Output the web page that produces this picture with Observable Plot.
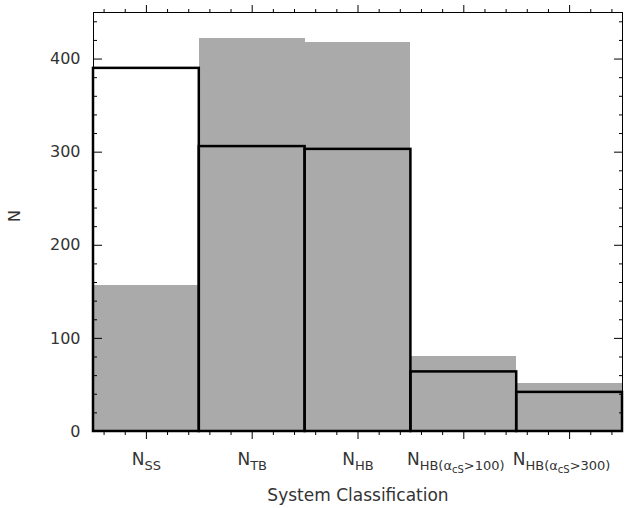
<!DOCTYPE html>
<html>
<head>
<meta charset="utf-8">
<script src="https://cdn.jsdelivr.net/npm/d3@7"></script>
<script src="https://cdn.jsdelivr.net/npm/@observablehq/plot@0.6"></script>
<style>
  html, body { margin: 0; padding: 0; background: #fff; }
  #chart { width: 624px; height: 508px; }
</style>
</head>
<body>
<div id="chart"></div>
<script>
// ---- data ----
const mainSymbol = "N";
const subscripts = ["SS", "TB", "HB", "HB(α_{cS}>100)", "HB(α_{cS}>300)"];
const filledCounts = [157, 422, 418, 81, 52];   // grey filled bars
const outlineCounts = [390, 306, 303, 64, 42];  // black outlined bars
const yTickValues = [0, 100, 200, 300, 400];
const yMinorTicks = [20, 40, 60, 80, 120, 140, 160, 180, 220, 240, 260, 280, 320, 340, 360, 380, 420, 440];
const xLabel = "System Classification";
const yLabel = "N";

const rows = subscripts.map((s, i) => ({
  i, sub: s, filled: filledCounts[i], outline: outlineCounts[i]
}));
const xMajor = rows.map(d => d.i + 0.5);
const xMinor = d3.range(25).filter(k => k % 5 !== 2).map(k => (2 * k + 1) / 10);

const font = "'DejaVu Sans', sans-serif";
const ink = "#333";

const chart = Plot.plot({
  width: 624,
  height: 508,
  marginLeft: 93,
  marginRight: 2,
  marginTop: 12,
  marginBottom: 77,
  style: { fontFamily: font, fontSize: "16px", color: ink, background: "#fff" },
  x: { domain: [0, 5] },
  y: { domain: [0, 450] },
  marks: [
    Plot.rectY(rows, { x1: "i", x2: d => d.i + 1, y: "filled", fill: "#aaaaaa", shapeRendering: "crispEdges" }),
    Plot.rectY(rows, { x1: "i", x2: d => d.i + 1, y: "outline", fill: "none", stroke: "black", strokeWidth: 2.5 }),
    Plot.frame({ stroke: "black", strokeWidth: 1 }),
    // y axes (ticks inward)
    Plot.axisY(yTickValues, { anchor: "left", tickSize: -9, fill: "none", stroke: "black", label: null }),
    Plot.axisY(yMinorTicks, { anchor: "left", tickSize: -4, fill: "none", stroke: "black", label: null }),
    Plot.axisY(yTickValues, { anchor: "right", tickSize: -9, fill: "none", stroke: "black", label: null }),
    Plot.axisY(yMinorTicks, { anchor: "right", tickSize: -4, fill: "none", stroke: "black", label: null }),
    Plot.axisY(yTickValues, { anchor: "left", tickSize: 0, tickPadding: 13, fill: ink, label: null, tickFormat: d => String(d) }),
    // x axes (ticks outward)
    Plot.axisX(xMajor, { anchor: "bottom", tickSize: 8, fill: "none", stroke: "black", label: null }),
    Plot.axisX(xMinor, { anchor: "bottom", tickSize: 4, fill: "none", stroke: "black", label: null }),
    Plot.axisX(xMajor, { anchor: "top", tickSize: 8, fill: "none", stroke: "black", label: null }),
    Plot.axisX(xMinor, { anchor: "top", tickSize: 4, fill: "none", stroke: "black", label: null }),
    // category labels
    Plot.text(rows, { x: d => d.i + 0.5, frameAnchor: "bottom", dy: 33, lineAnchor: "bottom",
      text: d => mainSymbol + "_{" + d.sub + "}", fill: ink, fontSize: 17 }),
    // axis titles
    Plot.text([xLabel], { frameAnchor: "bottom", dy: 69, lineAnchor: "bottom", text: d => d, fill: ink, fontSize: 17 }),
    Plot.text([yLabel], { frameAnchor: "left", dx: -79, rotate: -90, text: d => d, fill: ink, fontSize: 16 })
  ]
});

// render subscripts as tspans
function renderSub(el, s) {
  el.textContent = "";
  const sizes = [17, 13, 10], offs = [0, 5, 8];
  let level = 0, cur = 0, buf = "";
  const segs = [];
  for (let i = 0; i < s.length; i++) {
    if (s[i] === "_" && s[i + 1] === "{") { if (buf) segs.push([buf, level]); buf = ""; level++; i++; }
    else if (s[i] === "}") { if (buf) segs.push([buf, level]); buf = ""; level--; }
    else buf += s[i];
  }
  if (buf) segs.push([buf, level]);
  for (const [t, l] of segs) {
    const ts = document.createElementNS("http://www.w3.org/2000/svg", "tspan");
    ts.setAttribute("font-size", sizes[l]);
    ts.setAttribute("dy", offs[l] - cur);
    cur = offs[l];
    ts.textContent = t;
    el.appendChild(ts);
  }
  // long labels sit slightly left of their tick in the reference
  if (s.includes("(")) el.setAttribute("dx", -8);
}
chart.querySelectorAll("text").forEach(el => {
  const s = el.textContent;
  if (s.includes("_{")) renderSub(el, s);
});

document.getElementById("chart").appendChild(chart);
</script>
</body>
</html>
